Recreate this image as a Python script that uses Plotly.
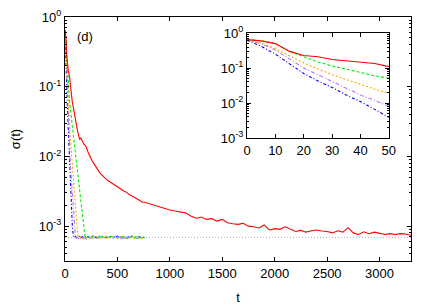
import plotly.graph_objects as go

# time grids
T_FAST = list(range(0, 51, 5)) + list(range(60, 201, 10)) + list(range(220, 761, 20))
T_RED = T_FAST + list(range(800, 3301, 50))

red = [0.65, 0.60, 0.50, 0.30, 0.23, 0.21, 0.175, 0.16, 0.15, 0.135, 0.11,
       0.075, 0.06, 0.05, 0.04, 0.033, 0.028, 0.023, 0.02, 0.0175, 0.0185, 0.017, 0.016, 0.015, 0.0145, 0.014,
       0.0115, 0.0098, 0.0086, 0.0077, 0.0068, 0.0062, 0.0056, 0.0052, 0.0049, 0.0046, 0.0044, 0.0042, 0.0040,
       0.0038, 0.0036, 0.0035, 0.0033, 0.0032, 0.0031, 0.0029, 0.0028, 0.0027, 0.0026, 0.0025, 0.0024, 0.0023,
       0.0022, 0.0022,
       0.0021, 0.0020, 0.0019, 0.0018, 0.0017, 0.00165, 0.0016, 0.00155, 0.0014, 0.0013,
       0.00135, 0.00125, 0.00128, 0.00118, 0.00125, 0.00112, 0.00108, 0.00106, 0.00110, 0.00100,
       0.00098, 0.00094, 0.00104, 0.00088, 0.00092, 0.00090, 0.00098, 0.00090, 0.00084, 0.00087,
       0.00082, 0.00086, 0.00088, 0.00085, 0.00084, 0.00080, 0.00086, 0.00082, 0.00095, 0.00080,
       0.00076, 0.00083, 0.00078, 0.00082, 0.00079, 0.00076, 0.00078, 0.00076, 0.00078, 0.00077, 0.00074]

green = [0.65, 0.60, 0.50, 0.30, 0.21, 0.15, 0.115, 0.095, 0.075, 0.06, 0.049,
         0.036, 0.027, 0.020, 0.015, 0.011, 0.0082, 0.006, 0.0045, 0.0033, 0.0025, 0.0018, 0.0013, 0.00095, 0.00072, 0.00068,
         0.00070, 0.00068, 0.00071, 0.00073, 0.00069, 0.00067, 0.00070, 0.00072, 0.00068, 0.00071, 0.00069, 0.00073,
         0.00070, 0.00068, 0.00071, 0.00067, 0.00070, 0.00072, 0.00069, 0.00066, 0.00070, 0.00071, 0.00068, 0.00070,
         0.00067, 0.00069, 0.00071, 0.00068]

orange = [0.63, 0.52, 0.36, 0.22, 0.14, 0.095, 0.065, 0.047, 0.034, 0.025, 0.019,
          0.012, 0.0075, 0.0047, 0.003, 0.0019, 0.0012, 0.00078, 0.00069, 0.00067, 0.00070, 0.00068, 0.00066, 0.00069, 0.00067, 0.00065,
          0.00068, 0.00070, 0.00067, 0.00069, 0.00071, 0.00068, 0.00066, 0.00070, 0.00069, 0.00067, 0.00071, 0.00068,
          0.00070, 0.00066, 0.00069, 0.00071, 0.00068, 0.00067, 0.00070, 0.00069, 0.00068, 0.00071, 0.00067, 0.00069,
          0.00070, 0.00068, 0.00066, 0.00069]

violet = [0.63, 0.50, 0.33, 0.18, 0.10, 0.065, 0.042, 0.027, 0.017, 0.012, 0.008,
          0.0047, 0.0028, 0.0016, 0.00093, 0.00071, 0.00067, 0.00069, 0.00066, 0.00068, 0.00070, 0.00067, 0.00069, 0.00066, 0.00068, 0.00065,
          0.00069, 0.00067, 0.00070, 0.00068, 0.00066, 0.00069, 0.00071, 0.00067, 0.00068, 0.00070, 0.00066, 0.00069,
          0.00068, 0.00071, 0.00067, 0.00069, 0.00066, 0.00070, 0.00068, 0.00067, 0.00069, 0.00071, 0.00068, 0.00066,
          0.00069, 0.00070, 0.00067, 0.00068]

blue = [0.63, 0.42, 0.25, 0.13, 0.07, 0.043, 0.028, 0.017, 0.011, 0.0066, 0.0039,
        0.0019, 0.00100, 0.00072, 0.00069, 0.00071, 0.00068, 0.00070, 0.00069, 0.00072, 0.00068, 0.00070, 0.00071, 0.00069, 0.00070, 0.00068,
        0.00071, 0.00069, 0.00072, 0.00070, 0.00068, 0.00071, 0.00073, 0.00070, 0.00069, 0.00072, 0.00070, 0.00071,
        0.00068, 0.00070, 0.00072, 0.00069, 0.00071, 0.00070, 0.00068, 0.00071, 0.00069, 0.00072, 0.00070, 0.00069,
        0.00071, 0.00070, 0.00068, 0.00070]

PLATEAU = 0.00069
X_RANGE = [0, 3300]

MAIN_XTICKS = [0, 500, 1000, 1500, 2000, 2500, 3000]
MAIN_YTICKS = [1, 0.1, 0.01, 0.001]
MAIN_YLABELS = ["10<sup>0</sup>", "10<sup>-1</sup>", "10<sup>-2</sup>", "10<sup>-3</sup>"]
INSET_XTICKS = [0, 10, 20, 30, 40, 50]
INSET_YTICKS = [1, 0.1, 0.01, 0.001]
INSET_YLABELS = ["10<sup>0</sup>", "10<sup>-1</sup>", "10<sup>-2</sup>", "10<sup>-3</sup>"]
MINOR_Y = [m * 10.0 ** e for e in (-4, -3, -2, -1) for m in range(2, 10)]

series = [
    ("fast4", T_FAST, blue, "#0000ff", "3px,2px,1px,2px"),
    ("fast3", T_FAST, violet, "#bb77ff", "4px,2px,1px,2px"),
    ("fast2", T_FAST, orange, "#ffa500", "2px,2px"),
    ("fast1", T_FAST, green, "#00ee00", "3px,2px"),
    ("slow", T_RED, red, "#ff0000", "solid"),
]

fig = go.Figure()

fig.add_trace(go.Scatter(x=X_RANGE, y=[PLATEAU, PLATEAU], mode="lines",
                         line=dict(color="#aaaaaa", width=1, dash="1px,2px"),
                         xaxis="x", yaxis="y", showlegend=False))

for name, t, v, c, d in series:
    fig.add_trace(go.Scatter(x=t, y=v, mode="lines", name=name,
                             line=dict(color=c, width=1.1, dash=d),
                             xaxis="x", yaxis="y", showlegend=False))

for name, t, v, c, d in series:
    fig.add_trace(go.Scatter(x=t, y=v, mode="lines", name=name,
                             line=dict(color=c, width=1.1, dash=d),
                             xaxis="x2", yaxis="y2", showlegend=False))

font = dict(family="Liberation Sans, Arial, sans-serif", size=13, color="black")
axis_common = dict(showline=True, linecolor="black", linewidth=1, mirror="ticks",
                   ticks="inside", ticklen=4, tickcolor="black", showgrid=False,
                   zeroline=False, tickfont=font, automargin=False)
minor_y = dict(tickmode="array", tickvals=MINOR_Y, ticks="inside", ticklen=2,
               tickcolor="black", showgrid=False)

fig.update_layout(
    width=428, height=297,
    margin=dict(l=57, r=25, t=9, b=44),
    paper_bgcolor="white", plot_bgcolor="white",
    font=font,
    xaxis=dict(axis_common, range=X_RANGE, tickvals=MAIN_XTICKS,
               title=dict(text="t", font=font, standoff=14), domain=[0, 1]),
    yaxis=dict(axis_common, type="log", range=[-3.5, 0], tickvals=MAIN_YTICKS,
               ticktext=MAIN_YLABELS, minor=minor_y,
               title=dict(text="σ(t)", font=font, standoff=26)),
    xaxis2=dict(axis_common, range=[0, 50], tickvals=INSET_XTICKS, anchor="y2",
                domain=[0.526, 0.936]),
    yaxis2=dict(axis_common, type="log", range=[-3, 0], tickvals=INSET_YTICKS,
                ticktext=INSET_YLABELS, anchor="x2", domain=[0.504, 0.934],
                minor=minor_y),
    annotations=[dict(text="(d)", x=0.03, y=0.92, xref="paper", yref="paper",
                      xanchor="left", yanchor="middle", showarrow=False, font=font)],
)

fig.write_html("out.html")
